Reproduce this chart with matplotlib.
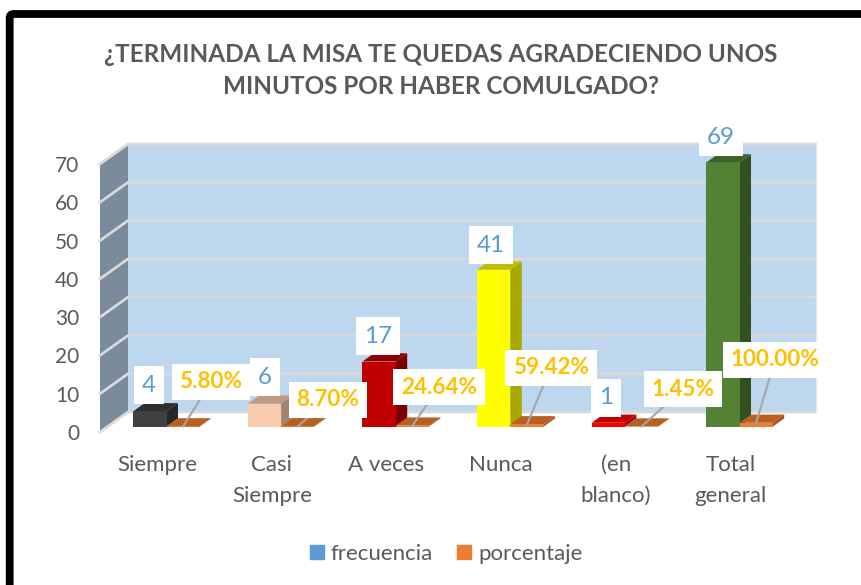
import matplotlib
matplotlib.use("Agg")
import matplotlib.pyplot as plt
from matplotlib.patches import Patch, Polygon, FancyBboxPatch, Rectangle

categories = ["Siempre", "Casi\nSiempre", "A veces", "Nunca", "(en\nblanco)", "Total\ngeneral"]
frecuencia = [4, 6, 17, 41, 1, 69]
porcentaje = [0.058, 0.087, 0.2464, 0.5942, 0.0145, 1.0]
pct_labels = ["5.80%", "8.70%", "24.64%", "59.42%", "1.45%", "100.00%"]
yticks = [0, 10, 20, 30, 40, 50, 60, 70]
title = "¿TERMINADA LA MISA TE QUEDAS AGRADECIENDO UNOS\nMINUTOS POR HABER COMULGADO?"

# front, top, side colour of each frecuencia bar
bar_front = ["#404040", "#F8CBAD", "#C00000", "#FFFF00", "#FF0000", "#548235"]
bar_top = ["#2E2E2E", "#BE9A82", "#900000", "#BFBF00", "#C00000", "#3F6128"]
bar_side = ["#262626", "#A08570", "#7A0000", "#A8A800", "#A80000", "#344F21"]

W, H = 862, 585
# label centres in pixels of the picture
freq_pos = [(149, 385), (265, 377), (378, 336), (491, 245), (606, 398), (721, 137)]
pct_pos = [(211, 382), (328, 400), (439, 387), (551, 368), (683, 389), (775, 360)]

fig = plt.figure(figsize=(W / 100, H / 100), dpi=100)
bg = fig.add_axes([0, 0, 1, 1])
bg.set_xlim(0, W)
bg.set_ylim(H, 0)
bg.axis("off")
# the frame runs off the picture on the right and at the bottom
bg.add_patch(FancyBboxPatch((9.7, 14), 900, 640, boxstyle="round,pad=0,rounding_size=4",
                            fc="white", ec="black", lw=5.6))

# axes = front plane of the 3d box
x0, x1, y0, y1 = 100, 787.6, 432, 164
ax = fig.add_axes([x0 / W, 1 - y0 / H, (x1 - x0) / W, (y0 - y1) / H])
ax.set_xlim(0, 6)
ax.set_ylim(0, 70)
ax.patch.set_visible(False)
for s in ax.spines.values():
    s.set_visible(False)
ax.tick_params(length=0)

px = 6 / (x1 - x0)
py = 70 / (y0 - y1)
DX, DY = 28 * px, 20 * py


def prism(ax, x, w, h, zf, zb, front, top, side, z=3):
    # box standing on the floor, zf and zb are depth fractions
    ox, oy = DX * zf, DY * zf
    bx, by = DX * (zb - zf), DY * (zb - zf)
    l, r = x + ox, x + w + ox
    b, t = oy, h + oy
    ax.add_patch(Polygon([(r, b), (r + bx, b + by), (r + bx, t + by), (r, t)], fc=side, ec="none", zorder=z, clip_on=False))
    ax.add_patch(Polygon([(l, t), (r, t), (r + bx, t + by), (l + bx, t + by)], fc=top, ec="none", zorder=z, clip_on=False))
    ax.add_patch(Rectangle((l, b), w, h, fc=front, ec="none", zorder=z, clip_on=False))


# walls
ax.add_patch(Rectangle((DX, DY), 6, 70, fc="#BDD7EE", ec="none", zorder=0, clip_on=False))
ax.add_patch(Polygon([(0, 0), (DX, DY), (DX, 70 + DY), (0, 70)], fc="#7A8B9C", ec="none", zorder=0, clip_on=False))
for v in yticks:
    ax.plot([0, DX, 6 + DX], [v, v + DY, v + DY], color="#D9D9D9", lw=2, zorder=1, clip_on=False)
ax.plot([6 + DX, 6 + DX], [DY, 70 + DY], color="#E2E8EE", lw=1, zorder=1, clip_on=False)

bw = 0.29
for i in range(len(categories)):
    left = i + 0.5 - bw * 0.95
    prism(ax, left, bw, frecuencia[i], 0.27, 0.68, bar_front[i], bar_top[i], bar_side[i], z=3 + i * 0.1)
    prism(ax, left + bw, bw, porcentaje[i], 0.27, 0.68, "#ED7D31", "#B85F22", "#A5551E", z=3 + i * 0.1)

trans = ax.transData.inverted()


def to_data(p):
    return trans.transform((p[0], H - p[1]))


for i in range(len(categories)):
    fx, fy = to_data(freq_pos[i])
    ax.text(fx, fy, str(frecuencia[i]), ha="center", va="center", color="#5B9BD5", fontsize=17.5,
            family="Lato", zorder=10, clip_on=False,
            bbox=dict(fc="white", ec="none", pad=6))
    lx, ly = to_data(pct_pos[i])
    left = i + 0.5 - bw * 0.95 + bw + DX * 0.27
    ax.plot([left + bw / 2, lx], [porcentaje[i] + DY * 0.27, ly], color="#A6A6A6", lw=1.5, zorder=8, clip_on=False)
    ax.text(lx, ly, pct_labels[i], ha="center", va="center", color="#FFC000", fontsize=16.2,
            family="Lato", weight="bold", zorder=11, clip_on=False,
            bbox=dict(fc="white", ec="none", pad=5.5))

ax.set_yticks(yticks)
ax.set_yticklabels([str(v) for v in yticks], family="Lato", fontsize=15, color="#595959")
ax.tick_params(axis="y", pad=15)
ax.set_xticks([])
# one text per line, so that every first line keeps the same baseline
for i, cat in enumerate(categories):
    for j, line in enumerate(cat.split("\n")):
        ax.annotate(line, (i + 0.5, 0), xytext=(0, -28.2 - 22.3 * j), textcoords="offset points",
                    ha="center", va="baseline", family="Lato", fontsize=16, color="#595959",
                    annotation_clip=False)

bg.text(441, 70.5, title, ha="center", va="center", family="Lato", weight="bold", fontsize=17.5,
        color="#595959", linespacing=1.45)

bg.legend(handles=[Patch(color="#5B9BD5", label="frecuencia"), Patch(color="#ED7D31", label="porcentaje")],
          loc="center", bbox_to_anchor=(446 / W, 1 - 554 / H), ncol=2, frameon=False,
          prop={"family": "Lato", "size": 16}, labelcolor="#595959",
          handlelength=0.63, handleheight=0.63, handletextpad=0.3, columnspacing=1.12)

fig.savefig("out.png", dpi=100)
